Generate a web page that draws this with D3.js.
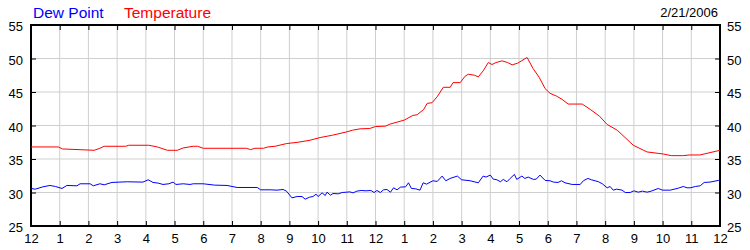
<!DOCTYPE html>
<html>
<head>
<meta charset="utf-8">
<script src="https://cdn.jsdelivr.net/npm/d3@7"></script>
<style>
  body { margin: 0; background: #fff; }
  text { font-family: Arial, "Liberation Sans", sans-serif; }
</style>
</head>
<body>
<div id="chart"></div>
<script>
// hours since midnight and readings
var tempHours = [0, 0.95, 1.1, 2.2, 2.4, 2.55, 3.3, 3.4, 4.1, 4.4, 4.75, 5.1, 5.3, 5.65, 5.8, 6.0, 7.5, 7.65, 7.8, 8.1,
  8.25, 8.5, 8.9, 9.3, 9.72, 10.07, 10.5, 11.0, 11.2, 11.46, 11.8, 12.0, 12.35, 12.5, 12.75, 13.0, 13.3, 13.45, 13.68, 13.8,
  13.97, 14.15, 14.36, 14.6, 14.7, 14.95, 15.12, 15.23, 15.45, 15.58, 15.75, 15.93, 16.06, 16.2, 16.41, 16.6, 16.76, 16.95, 17.28, 17.49,
  17.7, 17.91, 18.08, 18.3, 18.5, 18.71, 19.2, 19.48, 19.8, 20.07, 20.42, 20.98, 21.46, 22.02, 22.3, 22.7, 22.95, 23.3, 23.65, 24];
var temperature = [36.8, 36.8, 36.5, 36.3, 36.6, 36.9, 36.9, 37.05, 37.05, 36.8, 36.3, 36.3, 36.65, 36.9, 36.9, 36.6, 36.6, 36.4, 36.6, 36.6,
  36.8, 36.9, 37.3, 37.5, 37.8, 38.2, 38.55, 39.05, 39.3, 39.5, 39.55, 39.85, 39.9, 40.2, 40.5, 40.8, 41.5, 41.6, 42.4, 43.3,
  43.4, 44.3, 45.7, 45.7, 46.4, 46.4, 47.35, 47.65, 47.5, 47.25, 48.15, 49.4, 49.1, 49.4, 49.65, 49.4, 49.05, 49.3, 50.15, 48.5,
  47.2, 45.5, 44.8, 44.4, 43.9, 43.2, 43.2, 42.4, 41.4, 40.15, 39.3, 37.05, 36.05, 35.75, 35.5, 35.5, 35.6, 35.6, 35.95, 36.3];

var dewHours = [0, 0.15, 0.42, 0.66, 0.85, 1.08, 1.25, 1.6, 1.71, 2.06,
  2.17, 2.4, 2.55, 2.82, 3.35, 3.9, 4.08, 4.25, 4.43, 4.6,
  4.8, 4.95, 5.05, 5.3, 5.54, 5.65, 6.0, 6.4, 6.83, 7.18,
  7.88, 8.0, 8.33, 8.57, 8.78, 8.9, 9.09, 9.27, 9.44, 9.55,
  9.7, 9.82, 9.93, 10.0, 10.14, 10.25, 10.31, 10.43, 10.52, 10.7,
  10.84, 11.0, 11.1, 11.22, 11.35, 11.5, 11.67, 11.84, 11.95, 12.05,
  12.17, 12.28, 12.4, 12.52, 12.63, 12.75, 12.87, 13.05, 13.15, 13.25,
  13.4, 13.55, 13.66, 13.78, 14.0, 14.15, 14.32, 14.45, 14.6, 14.85,
  15.0, 15.3, 15.58, 15.75, 15.85, 16.0, 16.1, 16.23, 16.35, 16.45,
  16.58, 16.69, 16.84, 16.92, 17.1, 17.2, 17.32, 17.5, 17.6, 17.73,
  17.91, 18.08, 18.2, 18.36, 18.48, 18.6, 18.85, 19.13, 19.24, 19.4,
  19.52, 19.65, 19.77, 19.9, 20.07, 20.17, 20.28, 20.4, 20.59, 20.7,
  20.87, 21.0, 21.15, 21.3, 21.46, 21.6, 21.85, 22.0, 22.27, 22.55,
  22.72, 22.85, 22.96, 23.15, 23.31, 23.45, 23.65, 23.94, 24];
var dewPoint = [30.6, 30.5, 30.85, 31.05, 30.9, 30.6, 31.05, 31.0, 31.3, 31.3,
  31.0, 31.3, 31.15, 31.5, 31.6, 31.55, 31.9, 31.5, 31.4, 31.2,
  31.3, 31.55, 31.2, 31.3, 31.2, 31.3, 31.3, 31.1, 31.05, 30.75,
  30.75, 30.4, 30.4, 30.35, 30.45, 30.2, 29.2, 29.4, 29.4, 29.0,
  29.3, 29.4, 29.75, 29.4, 29.95, 29.55, 30.05, 29.6, 29.85, 29.8,
  30.0, 30.05, 30.1, 29.95, 30.2, 30.3, 30.25, 30.3, 30.0, 30.3,
  30.0, 30.4, 30.45, 30.05, 30.7, 30.4, 30.8, 30.85, 31.45, 30.6,
  30.55, 30.35, 31.45, 31.25, 31.75, 31.65, 32.45, 31.75, 32.1, 32.45,
  31.9, 31.75, 31.45, 32.45, 32.3, 32.6, 32.0, 31.9, 31.6, 31.95,
  31.6, 32.1, 32.7, 31.95, 32.45, 32.1, 32.3, 31.95, 32.0, 32.6,
  31.8, 31.75, 31.55, 31.5, 31.75, 31.45, 31.2, 31.2, 31.75, 32.1,
  31.9, 31.75, 31.6, 31.3, 30.7, 30.9, 30.35, 30.5, 30.35, 30.0,
  30.0, 30.25, 30.05, 30.2, 30.05, 30.2, 30.6, 30.35, 30.35, 30.65,
  30.9, 30.7, 30.7, 30.9, 31.0, 31.5, 31.55, 31.8, 31.85];

var yTicks = [25, 30, 35, 40, 45, 50, 55];
var xTicks = d3.range(0, 25);
var dateLabel = "2/21/2006";

var margin = {top: 25, right: 30, bottom: 24, left: 31},
    width = 750 - margin.left - margin.right,
    height = 250 - margin.top - margin.bottom;

var root = d3.select("#chart")
  .append("svg")
    .attr("width", 750)
    .attr("height", 250);
var svg = root.append("g")
    .attr("transform", "translate(" + margin.left + "," + margin.top + ")");

var x = d3.scaleLinear().domain([0, 24]).range([0, width]);
var y = d3.scaleLinear().domain([25, 55]).range([height, 0]);

// grid
svg.append("g")
  .selectAll("line")
  .data(xTicks.slice(1, -1))
  .join("line")
    .attr("x1", d => x(d)).attr("x2", d => x(d))
    .attr("y1", 0).attr("y2", height)
    .attr("stroke", "#cfcfcf");
svg.append("g")
  .selectAll("line")
  .data(yTicks.slice(1, -1))
  .join("line")
    .attr("x1", 0).attr("x2", width)
    .attr("y1", d => y(d)).attr("y2", d => y(d))
    .attr("stroke", "#cfcfcf");

// axes
var hourFmt = d => (d % 12 === 0 ? 12 : d % 12);
function styleAxis(g) {
  g.select(".domain").remove();
  g.selectAll("line").attr("stroke", "#000");
  g.selectAll("text").attr("fill", "#000").attr("font-size", 13)
    .attr("font-family", "Arial, 'Liberation Sans', sans-serif");
}
svg.append("g")
  .attr("transform", "translate(0," + height + ")")
  .call(d3.axisBottom(x).tickValues(xTicks).tickFormat(hourFmt).tickSizeInner(-5).tickSizeOuter(0).tickPadding(8))
  .call(styleAxis);
svg.append("g")
  .call(d3.axisTop(x).tickValues(xTicks).tickFormat("").tickSizeInner(-5).tickSizeOuter(0))
  .call(styleAxis);
svg.append("g")
  .call(d3.axisLeft(y).tickValues(yTicks).tickSizeInner(-5).tickSizeOuter(0).tickPadding(8))
  .call(styleAxis)
  .selectAll("text").attr("dy", "0.45em");
svg.append("g")
  .attr("transform", "translate(" + width + ",0)")
  .call(d3.axisRight(y).tickValues(yTicks).tickSizeInner(-5).tickSizeOuter(0).tickPadding(7))
  .call(styleAxis)
  .selectAll("text").attr("dy", "0.45em");

// frame
svg.append("rect")
  .attr("width", width).attr("height", height)
  .attr("fill", "none").attr("stroke", "#000").attr("stroke-width", 2);

// lines
var line = d3.line().x(d => x(d[0])).y(d => y(d[1]));
svg.append("path")
  .datum(d3.zip(dewHours, dewPoint))
  .attr("fill", "none").attr("stroke", "#0000ff").attr("stroke-width", 1)
  .attr("d", line);
svg.append("path")
  .datum(d3.zip(tempHours, temperature))
  .attr("fill", "none").attr("stroke", "#ff0000").attr("stroke-width", 1)
  .attr("d", line);

// legend and date
root.append("text").attr("x", 33).attr("y", 18).attr("font-size", 15.5).attr("fill", "#0000ff").text("Dew Point");
root.append("text").attr("x", 124).attr("y", 18).attr("font-size", 15.5).attr("fill", "#ff0000").text("Temperature");
root.append("text").attr("x", 718).attr("y", 17).attr("font-size", 13).attr("text-anchor", "end").attr("fill", "#000").text(dateLabel);
</script>
</body>
</html>
